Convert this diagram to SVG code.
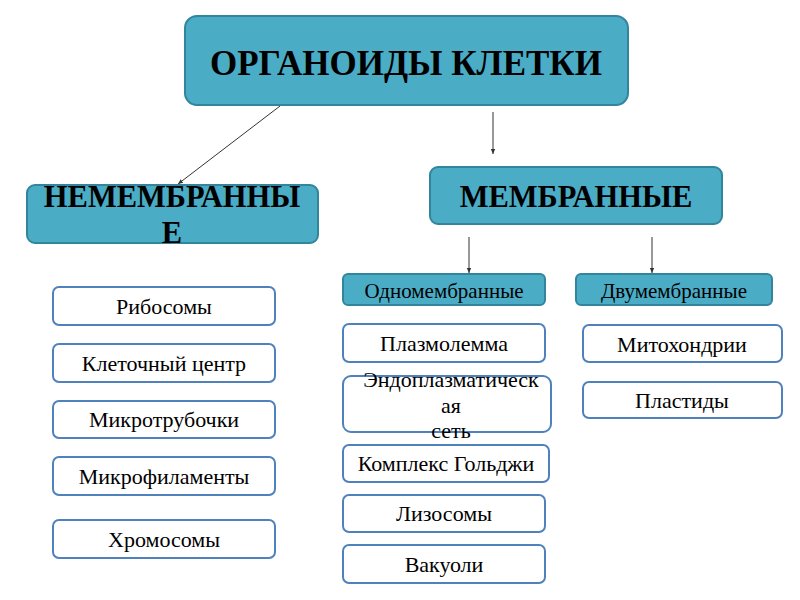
<svg xmlns="http://www.w3.org/2000/svg" width="800" height="600" viewBox="0 0 800 600">
<defs>
<marker id="ah" markerWidth="6" markerHeight="6" refX="5" refY="3" orient="auto" markerUnits="userSpaceOnUse">
<path d="M0,0.8 L5,3 L0,5.2 z" fill="#333"/>
</marker>
<style>
.hdr{fill:#4BACC6;stroke:#31859C;stroke-width:2}
.item{fill:#FFFFFF;stroke:#4F81BD;stroke-width:2}
.t{font-family:"Liberation Serif","Times New Roman",serif;fill:#000;text-anchor:middle}
.big{font-size:35px;font-weight:bold}
.mid{font-size:30.5px;font-weight:bold}
.sub{font-size:21px}
.it{font-size:22px}
.con{stroke:#333;stroke-width:1;fill:none;marker-end:url(#ah)}
</style>
</defs>
<rect width="800" height="600" fill="#FFFFFF"/>
<g id="connectors">
<line class="con" x1="280" y1="106" x2="178" y2="184"/>
<line class="con" x1="493" y1="112" x2="493" y2="154"/>
<line class="con" x1="469" y1="237" x2="469" y2="273"/>
<line class="con" x1="652" y1="237" x2="652" y2="273"/>
</g>
<g id="root"><rect class="hdr" x="185" y="16" width="443" height="89" rx="12"/><text class="t big" x="406" y="75">ОРГАНОИДЫ КЛЕТКИ</text></g>
<g id="nonmembrane"><rect class="hdr" x="27" y="185" width="291" height="58" rx="8"/><text class="t mid" x="172" y="207">НЕМЕМБРАННЫ</text><text class="t mid" x="172" y="243">Е</text></g>
<g id="membrane"><rect class="hdr" x="430" y="167" width="292" height="57" rx="8"/><text class="t mid" x="576" y="207">МЕМБРАННЫЕ</text></g>
<g id="single"><rect class="hdr" x="343" y="274" width="202" height="31" rx="5"/><text class="t sub" x="444" y="298">Одномембранные</text></g>
<g id="double"><rect class="hdr" x="576" y="274" width="196" height="31" rx="5"/><text class="t sub" x="674" y="298">Двумембранные</text></g>
<g id="ribosomes"><rect class="item" x="53" y="287" width="222" height="38" rx="6"/><text class="t it" x="164" y="314">Рибосомы</text></g>
<g id="centrosome"><rect class="item" x="53" y="344" width="222" height="38" rx="6"/><text class="t it" x="164" y="371">Клеточный центр</text></g>
<g id="microtubules"><rect class="item" x="53" y="401" width="222" height="37" rx="6"/><text class="t it" x="164" y="427">Микротрубочки</text></g>
<g id="microfilaments"><rect class="item" x="53" y="457" width="222" height="38" rx="6"/><text class="t it" x="164" y="484">Микрофиламенты</text></g>
<g id="chromosomes"><rect class="item" x="53" y="520" width="222" height="38" rx="6"/><text class="t it" x="164" y="547">Хромосомы</text></g>
<g id="plasmalemma"><rect class="item" x="343" y="324" width="202" height="38" rx="6"/><text class="t it" x="444" y="351">Плазмолемма</text></g>
<g id="er"><rect class="item" x="343" y="376" width="208" height="56" rx="8"/><text class="t it" x="451" y="387">Эндоплазматическ</text><text class="t it" x="451" y="413">ая</text><text class="t it" x="451" y="438">сеть</text></g>
<g id="golgi"><rect class="item" x="343" y="445" width="206" height="37" rx="6"/><text class="t it" x="446" y="471">Комплекс Гольджи</text></g>
<g id="lysosomes"><rect class="item" x="343" y="495" width="202" height="37" rx="6"/><text class="t it" x="444" y="521">Лизосомы</text></g>
<g id="vacuoles"><rect class="item" x="343" y="545" width="202" height="38" rx="6"/><text class="t it" x="444" y="572">Вакуоли</text></g>
<g id="mitochondria"><rect class="item" x="583" y="325" width="199" height="37" rx="6"/><text class="t it" x="682" y="352">Митохондрии</text></g>
<g id="plastids"><rect class="item" x="583" y="382" width="199" height="36" rx="6"/><text class="t it" x="682" y="408">Пластиды</text></g>
</svg>
